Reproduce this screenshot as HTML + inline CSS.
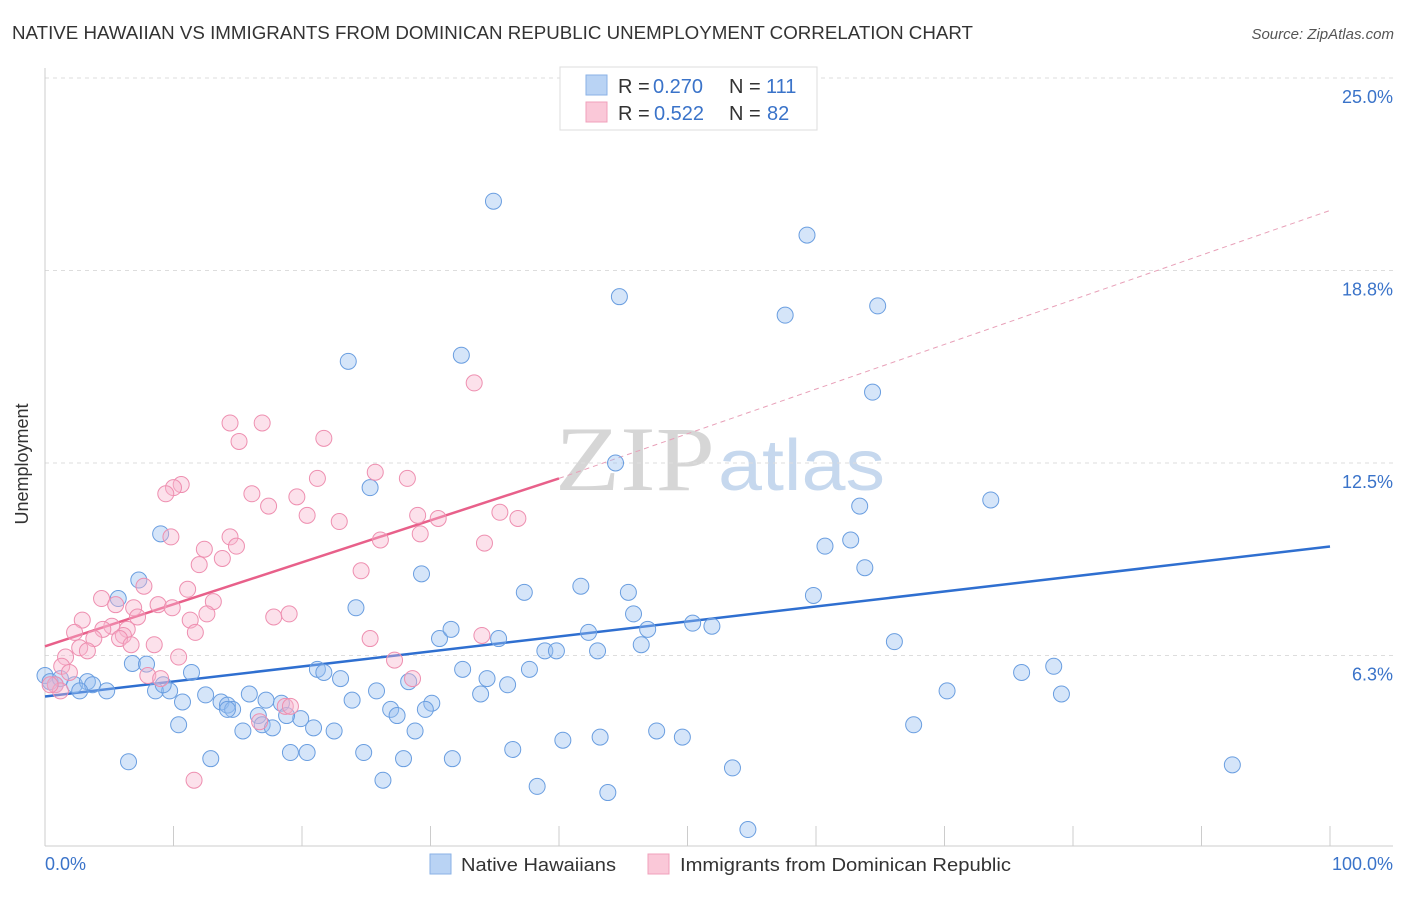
<!DOCTYPE html>
<html><head><meta charset="utf-8"><style>
body{margin:0;background:#fff;font-family:"Liberation Sans",sans-serif;}
</style></head><body>
<svg width="1406" height="892" xmlns="http://www.w3.org/2000/svg" font-family="Liberation Sans, sans-serif">
<text x="12" y="39" font-size="18" fill="#333" textLength="961" lengthAdjust="spacingAndGlyphs">NATIVE HAWAIIAN VS IMMIGRANTS FROM DOMINICAN REPUBLIC UNEMPLOYMENT CORRELATION CHART</text>
<text x="1394" y="39" font-size="15" fill="#555" font-style="italic" text-anchor="end">Source: ZipAtlas.com</text>
<text x="555" y="490" font-size="92" fill="#d6d6d6" textLength="160" lengthAdjust="spacingAndGlyphs" font-family="Liberation Serif, serif">ZIP</text>
<text x="718" y="490" font-size="72" fill="#c6d8ee" textLength="167" lengthAdjust="spacingAndGlyphs">atlas</text>
<g id="grid"></g>
<line x1="45" y1="68" x2="45" y2="846" stroke="#ccc"/>
<line x1="45" y1="846" x2="1393" y2="846" stroke="#ccc"/>
<text x="20" y="456" font-size="18" fill="#333" text-anchor="middle" transform="rotate(-90 28 456)">Unemployment</text>
<text x="45" y="870" font-size="18" fill="#3a73c9">0.0%</text>
<text x="1393" y="870" font-size="18" fill="#3a73c9" text-anchor="end">100.0%</text>
<g id="ticks"></g>
<g id="lines"></g>
<g id="pts"></g>
<g>
<rect x="560" y="67" width="257" height="63" fill="#fff" stroke="#ddd"/>
<rect x="586" y="75" width="21" height="20" fill="#b9d3f4" stroke="#8ab1e6"/>
<rect x="586" y="102" width="21" height="20" fill="#fac8d8" stroke="#f0a0bb"/>
<text x="618" y="93" font-size="20" fill="#333">R = </text>
<text x="653" y="93" font-size="20" fill="#3a73c9">0.270</text>
<text x="729" y="93" font-size="20" fill="#333">N = </text>
<text x="766" y="93" font-size="20" fill="#3a73c9">111</text>
<text x="618" y="120" font-size="20" fill="#333">R = </text>
<text x="654" y="120" font-size="20" fill="#3a73c9">0.522</text>
<text x="729" y="120" font-size="20" fill="#333">N = </text>
<text x="767" y="120" font-size="20" fill="#3a73c9">82</text>
</g>
<g>
<rect x="430" y="854" width="21" height="20" fill="#b9d3f4" stroke="#8ab1e6"/>
<text x="461" y="871" font-size="18" fill="#333" textLength="155" lengthAdjust="spacingAndGlyphs">Native Hawaiians</text>
<rect x="648" y="854" width="21" height="20" fill="#fac8d8" stroke="#f0a0bb"/>
<text x="680" y="871" font-size="18" fill="#333" textLength="331" lengthAdjust="spacingAndGlyphs">Immigrants from Dominican Republic</text>
</g>
</svg>
<script>
const yTicks=[6.25,12.5,18.75,25];
const yTickLabels=["6.3%","12.5%","18.8%","25.0%"];
const blueX=[34.9,59.3,44.7,57.6,64.8,23.6,32.4,64.4,44.4,25.3,63.4,73.6,9.0,60.7,62.7,63.8,7.3,29.3,37.3,41.7,45.4,59.8,5.7,24.2,45.8,30.7,31.6,35.3,42.3,46.9,50.4,51.9,38.9,39.8,43.0,46.4,66.1,6.8,7.9,11.4,21.2,21.7,23.0,32.5,34.4,37.7,36.0,76.0,78.5,79.1,70.2,28.3,25.8,33.9,0.0,0.4,0.8,1.2,2.3,3.3,3.7,2.7,4.8,8.6,9.7,9.2,12.5,10.7,13.7,14.2,15.9,17.2,18.4,19.9,23.9,26.9,30.1,29.6,27.4,14.6,14.2,16.6,18.8,10.4,15.4,16.9,17.7,20.9,22.5,28.8,67.6,40.3,19.1,20.4,24.8,36.4,12.9,43.2,47.6,49.6,6.5,27.9,31.7,53.5,92.4,26.3,38.3,43.8,54.7];
const blueY=[21.0,19.9,17.9,17.3,17.6,15.8,16.0,14.8,12.5,11.7,11.1,11.3,10.2,9.8,10.0,9.1,8.7,8.9,8.3,8.5,8.3,8.2,8.1,7.8,7.6,6.8,7.1,6.8,7.0,7.1,7.3,7.2,6.4,6.4,6.4,6.6,6.7,5.99,5.97,5.7,5.8,5.7,5.5,5.8,5.5,5.8,5.3,5.7,5.9,5.0,5.1,5.4,5.1,5.0,5.6,5.4,5.3,5.5,5.3,5.4,5.3,5.1,5.1,5.1,5.1,5.3,4.97,4.74,4.74,4.64,5.0,4.8,4.7,4.2,4.8,4.5,4.7,4.5,4.3,4.5,4.5,4.3,4.3,4.0,3.8,4.0,3.9,3.9,3.8,3.8,4.0,3.5,3.1,3.1,3.1,3.2,2.9,3.6,3.8,3.6,2.8,2.9,2.9,2.6,2.7,2.2,2.0,1.8,0.6];
const pinkX=[33.4,14.4,16.9,15.1,21.7,25.7,28.2,21.2,10.6,10.0,9.4,16.1,19.6,17.4,20.4,22.9,29.0,30.6,35.4,36.8,9.8,14.4,14.9,12.4,26.1,29.2,34.2,13.8,12.0,24.6,11.1,7.7,4.4,13.1,8.8,9.9,5.5,6.9,12.6,2.9,17.8,19.0,11.3,7.2,2.3,5.2,4.5,6.4,6.1,11.7,3.8,5.8,6.7,2.7,8.5,25.3,34.0,3.3,1.6,10.4,1.3,1.9,27.2,8.0,9.0,28.6,0.8,1.2,0.4,18.7,16.7,11.6,19.1];
const pinkY=[15.1,13.8,13.8,13.2,13.3,12.2,12.0,12.0,11.8,11.7,11.5,11.5,11.4,11.1,10.8,10.6,10.8,10.7,10.9,10.7,10.1,10.1,9.8,9.7,10.0,10.2,9.9,9.4,9.2,9.0,8.4,8.5,8.1,8.0,7.9,7.8,7.9,7.8,7.6,7.4,7.5,7.6,7.4,7.5,7.0,7.2,7.1,7.1,6.9,7.0,6.8,6.8,6.6,6.5,6.6,6.8,6.9,6.4,6.2,6.2,5.9,5.7,6.1,5.6,5.5,5.5,5.3,5.1,5.3,4.6,4.1,2.2,4.6];
const blueFit=[4.92,9.79];
const pinkFit=[6.55,12.0,20.7];
const X=v=>45+v*12.85, Y=v=>848-v*30.8;
const NS="http://www.w3.org/2000/svg";
function mk(t,a,p){const e=document.createElementNS(NS,t);for(const k in a)e.setAttribute(k,a[k]);document.getElementById(p).appendChild(e);return e;}
yTicks.forEach((t,i)=>{
 const l=mk('line',{x1:45,x2:1393,y1:Y(t),y2:Y(t),stroke:'#ddd','stroke-dasharray':'4,4'},'grid');
 
 
 const tx=mk('text',{x:1393,y:Y(t)+25,'font-size':18,fill:'#3a73c9','text-anchor':'end'},'grid');
 tx.textContent=yTickLabels[i];
 
 
});
for(let i=1;i<=10;i++){const l=mk('line',{x1:X(i*10),x2:X(i*10),y1:826,y2:846,stroke:'#ccc'},'ticks');
 
 }
blueX.forEach((v,i)=>{const c=mk('circle',{cx:X(v),cy:Y(blueY[i]),r:8,fill:'rgba(150,190,240,0.4)',stroke:'#6a9ee0','stroke-width':1},'pts');
 
 });
pinkX.forEach((v,i)=>{const c=mk('circle',{cx:X(v),cy:Y(pinkY[i]),r:8,fill:'rgba(248,180,205,0.4)',stroke:'#ee8fb0','stroke-width':1},'pts');
 
 });
let l=mk('line',{x1:X(0),y1:Y(blueFit[0]),x2:X(100),y2:Y(blueFit[1]),stroke:'#2f6fd0','stroke-width':2.5},'lines');


l=mk('line',{x1:X(0),y1:Y(pinkFit[0]),x2:X(40),y2:Y(pinkFit[1]),stroke:'#e8608a','stroke-width':2.5},'lines');


l=mk('line',{x1:X(40),y1:Y(pinkFit[1]),x2:X(100),y2:Y(pinkFit[2]),stroke:'#e8a0b8','stroke-width':1,'stroke-dasharray':'5,4'},'lines');


</script>
</body></html>
